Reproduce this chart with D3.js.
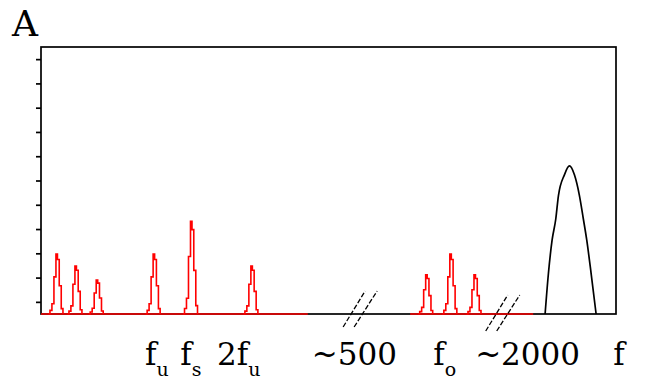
<!DOCTYPE html>
<html>
<head>
<meta charset="utf-8">
<script src="https://cdn.jsdelivr.net/npm/d3@7"></script>
<style>
  body { margin: 0; background: #fff; }
  text { font-family: "DejaVu Serif", "Liberation Serif", serif; }
</style>
</head>
<body>
<div id="wrapper"></div>
<script>
// spectrum data (schematic units)
const redPeakCenters = [2.6, 5.9, 9.6, 19.5, 26.0, 36.5, 66.9, 71.1, 75.3];
const redPeakHeights = [2.47, 1.98, 1.40, 2.47, 3.82, 1.98, 1.61, 2.47, 1.61];
// [offset, relative level]
const redPeakShape = [[-1.3, 0], [-1.04, 0.06], [-0.7, 0.17], [-0.35, 0.62], [0, 1],
  [0.26, 0.91], [0.57, 0.47], [0.92, 0.09], [1.22, 0]];
const redBaseline = [[0, 46.4], [64.2, 85.6]];
const blackPeakCenter = 91.9;
const blackPeakHeight = 6.1;
const blackPeakShape = [[-4.23, 0], [-3.65, 0.275], [-3.01, 0.5], [-2.38, 0.64], [-1.91, 0.8],
  [-0.87, 0.94], [0, 1], [0.87, 0.94], [1.74, 0.8], [2.43, 0.64], [3.01, 0.5], [3.77, 0.275], [4.64, 0]];
const breakMarks = [55.5, 80.3];
const breakLift = [5, 1];
const yTicks = [0.5, 1.5, 2.5, 3.5, 4.5, 5.5, 6.5, 7.5, 8.5, 9.5, 10.5];
const labelMain = ['f', 'f', '2f', '~500', 'f', '~2000', 'f'];
const labelSub = ['u', 's', 'u', '', 'o', '', ''];
const labelX = [18.1, 24.2, 30.6, 47.1, 68.2, 75.5, 99.5];

const dimensions = {
  width: 651,
  height: 381,
  margin: { top: 47, right: 35, bottom: 67, left: 41 },
};
dimensions.boundedWidth = dimensions.width - dimensions.margin.left - dimensions.margin.right;
dimensions.boundedHeight = dimensions.height - dimensions.margin.top - dimensions.margin.bottom;

const wrapper = d3.select('#wrapper')
  .append('svg')
  .attr('width', dimensions.width)
  .attr('height', dimensions.height);

const bounds = wrapper.append('g')
  .attr('transform', `translate(${dimensions.margin.left},${dimensions.margin.top})`);

const xScale = d3.scaleLinear()
  .domain([0, 100])
  .range([0, dimensions.boundedWidth]);
const yScale = d3.scaleLinear()
  .domain([0, 11])
  .range([dimensions.boundedHeight, 0]);

// frame
bounds.append('rect')
  .attr('width', dimensions.boundedWidth)
  .attr('height', dimensions.boundedHeight)
  .attr('fill', 'none')
  .attr('stroke', '#000')
  .attr('stroke-width', 1.7);

// y ticks, no labels
const yAxis = bounds.append('g')
  .call(d3.axisLeft(yScale).tickValues(yTicks).tickFormat('').tickSize(5).tickSizeOuter(0));
yAxis.select('.domain').remove();
yAxis.selectAll('line').attr('stroke-width', 1.7);

// red baseline pieces
bounds.selectAll('.red-base')
  .data(redBaseline)
  .join('line')
  .attr('class', 'red-base')
  .attr('x1', d => xScale(d[0]))
  .attr('x2', d => xScale(d[1]))
  .attr('y1', yScale(0))
  .attr('y2', yScale(0))
  .attr('stroke', '#ff0000')
  .attr('stroke-width', 1.7);

// red peaks
const stepLine = d3.line().curve(d3.curveStepAfter);
bounds.selectAll('.red-peak')
  .data(redPeakCenters)
  .join('path')
  .attr('class', 'red-peak')
  .attr('d', (c, i) => stepLine(redPeakShape.map(p =>
    [xScale(c + p[0]), yScale(redPeakHeights[i] * p[1])])))
  .attr('fill', 'none')
  .attr('stroke', '#ff0000')
  .attr('stroke-width', 1.6);

// black peak
bounds.append('path')
  .attr('d', d3.line().curve(d3.curveMonotoneX)(blackPeakShape.map(p =>
    [xScale(blackPeakCenter + p[0]), yScale(blackPeakHeight * p[1])])))
  .attr('fill', 'none')
  .attr('stroke', '#000')
  .attr('stroke-width', 1.7);

// axis break marks //
const breaks = bounds.selectAll('.brk')
  .data(breakMarks)
  .join('g')
  .attr('class', 'brk')
  .attr('transform', (d, i) => `translate(${xScale(d)},${yScale(0) - breakLift[i]})`);
breaks.selectAll('line')
  .data([[-17, 18, 5, -18], [-6, 18, 17, -18]])
  .join('line')
  .attr('x1', d => d[0]).attr('y1', d => d[1])
  .attr('x2', d => d[2]).attr('y2', d => d[3])
  .attr('stroke', '#000')
  .attr('stroke-width', 1.3)
  .attr('stroke-dasharray', '5,2');

// x labels
const labels = bounds.selectAll('.xlabel')
  .data(labelMain)
  .join('text')
  .attr('class', 'xlabel')
  .attr('x', (d, i) => xScale(labelX[i]))
  .attr('y', dimensions.boundedHeight + 51)
  .style('font-size', '31px');
labels.append('tspan').text(d => d);
labels.append('tspan')
  .attr('dy', 11)
  .style('font-size', '19px')
  .text((d, i) => labelSub[i]);

// axis titles
wrapper.append('text')
  .attr('x', 12)
  .attr('y', 36)
  .style('font-size', '36px')
  .text('A');
</script>
</body>
</html>
